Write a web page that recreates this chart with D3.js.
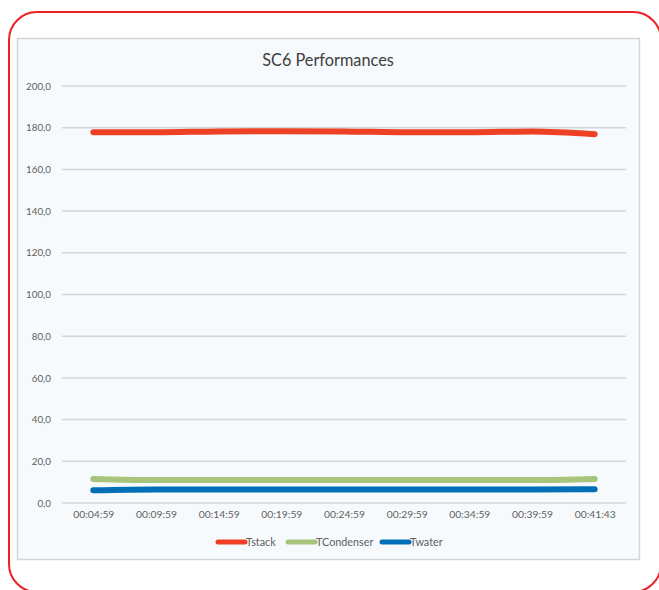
<!DOCTYPE html>
<html>
<head>
<meta charset="utf-8">
<script src="https://cdn.jsdelivr.net/npm/d3@7"></script>
<style>
  body { margin: 0; background: #fff; }
  svg { display: block; font-family: Lato, "Open Sans", sans-serif; }
</style>
</head>
<body>
<svg id="chart" width="659" height="590"></svg>
<script>
// data
var times = ["00:04:59", "00:09:59", "00:14:59", "00:19:59", "00:24:59", "00:29:59", "00:34:59", "00:39:59", "00:41:43"];
var tstack = [177.8, 177.8, 178.2, 178.3, 178.2, 177.8, 177.8, 178.2, 176.9];
var tcondenser = [11.5, 11.0, 11.0, 11.0, 11.0, 11.0, 11.0, 11.0, 11.5];
var twater = [6.1, 6.5, 6.5, 6.5, 6.5, 6.5, 6.5, 6.5, 6.6];
var yTicks = [0, 20, 40, 60, 80, 100, 120, 140, 160, 180, 200];

var series = [
  { name: "Tstack", values: tstack, color: "#EE4025" },
  { name: "TCondenser", values: tcondenser, color: "#A6C47C" },
  { name: "Twater", values: twater, color: "#0070B6" }
];

(function() {
var svg = d3.select("#chart");

// outer red rounded frame (runs off the right / bottom)
svg.append("rect")
  .attr("x", 9).attr("y", 12)
  .attr("width", 652).attr("height", 580)
  .attr("rx", 28).attr("ry", 28)
  .attr("fill", "#fff")
  .attr("stroke", "#EC2227")
  .attr("stroke-width", 2);

// chart panel
svg.append("rect")
  .attr("x", 17.5).attr("y", 38.5)
  .attr("width", 622).attr("height", 521)
  .attr("fill", "#F7FAFC")
  .attr("stroke", "#D2D6DA")
  .attr("stroke-width", 1.5);

svg.append("text")
  .attr("x", 328).attr("y", 66)
  .attr("text-anchor", "middle")
  .attr("fill", "#404040")
  .style("font-size", "16.3px")
  .text("SC6 Performances");

var plotLeft = 62, plotRight = 626, plotTop = 86, plotBottom = 503;

var x = d3.scalePoint().domain(times).range([plotLeft, plotRight]).padding(0.5);
var y = d3.scaleLinear().domain([0, 200]).range([plotBottom, plotTop]);

// grid lines
svg.append("g")
  .selectAll("line")
  .data(yTicks)
  .enter().append("line")
  .attr("x1", plotLeft).attr("x2", plotRight)
  .attr("y1", function(d) { return y(d); })
  .attr("y2", function(d) { return y(d); })
  .attr("stroke", "#D3D5D9")
  .attr("stroke-width", 1.5);

// y axis labels
var fmt = function(d) { return d3.format(".1f")(d).replace(".", ","); };
var yAxis = svg.append("g")
  .attr("transform", "translate(51,0)")
  .call(d3.axisLeft(y).tickValues(yTicks).tickSize(0).tickPadding(0).tickFormat(fmt));
yAxis.select(".domain").remove();
yAxis.selectAll("text")
  .attr("fill", "#606060")
  .style("font-size", "9.8px")
  .style("font-family", "Lato, 'Open Sans', sans-serif");

// x axis labels
var xAxis = svg.append("g")
  .attr("transform", "translate(0," + (plotBottom + 8) + ")")
  .call(d3.axisBottom(x).tickSize(0).tickPadding(0));
xAxis.select(".domain").remove();
xAxis.selectAll("text")
  .attr("fill", "#606060")
  .style("font-size", "10.3px")
  .style("font-family", "Lato, 'Open Sans', sans-serif");

// lines
var line = d3.line()
  .x(function(d, i) { return x(times[i]); })
  .y(function(d) { return y(d); })
  .curve(d3.curveMonotoneX);

svg.append("g")
  .selectAll("path")
  .data(series.slice().reverse())
  .enter().append("path")
  .attr("d", function(s) { return line(s.values); })
  .attr("fill", "none")
  .attr("stroke", function(s) { return s.color; })
  .attr("stroke-width", 6)
  .attr("stroke-linecap", "round")
  .attr("stroke-linejoin", "round");

// legend
var legendX = [218, 288, 382];
var legend = svg.append("g")
  .selectAll("g")
  .data(series)
  .enter().append("g")
  .attr("transform", function(d, i) { return "translate(" + legendX[i] + ",542)"; });

legend.append("line")
  .attr("x1", 0).attr("x2", 27)
  .attr("y1", 0).attr("y2", 0)
  .attr("stroke", function(d) { return d.color; })
  .attr("stroke-width", 5)
  .attr("stroke-linecap", "round");

legend.append("text")
  .attr("x", 28).attr("y", 3.8)
  .attr("fill", "#606060")
  .style("font-size", "10.8px")
  .text(function(d) { return d.name; });
})();
</script>
</body>
</html>
